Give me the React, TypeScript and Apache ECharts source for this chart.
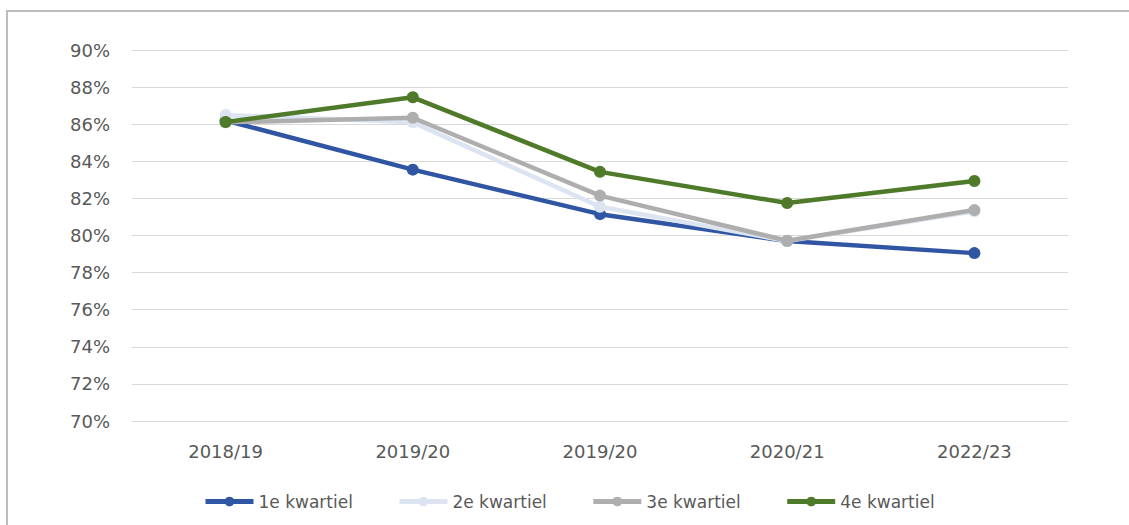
import React, { useEffect, useRef } from "react";
import * as echarts from "echarts";

const categories = ["2018/19", "2019/20", "2019/20", "2020/21", "2022/23"];
const seriesNames = ["1e kwartiel", "2e kwartiel", "3e kwartiel", "4e kwartiel"];
const q1 = [86.2, 83.55, 81.15, 79.7, 79.05];
const q2 = [86.5, 86.1, 81.55, 79.7, 81.3];
const q3 = [86.1, 86.35, 82.15, 79.72, 81.37];
const q4 = [86.12, 87.45, 83.43, 81.75, 82.94];
const colors = ["#2F55A3", "#DCE4F2", "#AEAEAE", "#4F7A2A"];
const yTicks = { min: 70, max: 90, interval: 2 };

export default function App() {
  const ref = useRef<HTMLDivElement>(null);
  useEffect(() => {
    if (!ref.current) return;
    const chart = echarts.init(ref.current, null, { renderer: "svg" });
    const font = "'DejaVu Sans', 'Noto Sans', sans-serif";
    const data = [q1, q2, q3, q4];
    chart.setOption({
      animation: false,
      backgroundColor: "#ffffff",
      textStyle: { fontFamily: font },
      graphic: [
        {
          type: "rect",
          shape: { x: 7, y: 11, width: 1300, height: 700 },
          style: { fill: "none", stroke: "#BDBDBD", lineWidth: 2 },
          silent: true,
        },
      ],
      grid: { left: 132, right: 61, top: 50, bottom: 104, containLabel: false },
      legend: {
        bottom: 10,
        left: 198,
        itemWidth: 48,
        itemHeight: 12,
        itemGap: 44,
        lineStyle: { width: 5 },
        textStyle: { color: "#595959", fontSize: 17, fontFamily: font },
        data: seriesNames,
      },
      xAxis: {
        type: "category",
        data: categories,
        boundaryGap: true,
        axisLine: { show: false },
        axisTick: { show: false },
        axisLabel: { color: "#595959", fontSize: 18, margin: 21, fontFamily: font },
      },
      yAxis: {
        type: "value",
        min: yTicks.min,
        max: yTicks.max,
        interval: yTicks.interval,
        axisLine: { show: false },
        axisTick: { show: false },
        splitLine: { lineStyle: { color: "#D9D9D9", width: 1 } },
        axisLabel: {
          color: "#595959",
          fontSize: 18,
          margin: 22,
          fontFamily: font,
          formatter: "{value}%",
        },
      },
      series: seriesNames.map((name, i) => ({
        name,
        type: "line",
        data: data[i],
        symbol: "circle",
        symbolSize: 12,
        lineStyle: { color: colors[i], width: 4.5 },
        itemStyle: { color: colors[i] },
        z: 2 + i,
      })),
    });
    return () => chart.dispose();
  }, []);
  return (
    <div
      ref={ref}
      style={{ position: "absolute", left: 0, top: 0, width: 1129, height: 525 }}
    />
  );
}
